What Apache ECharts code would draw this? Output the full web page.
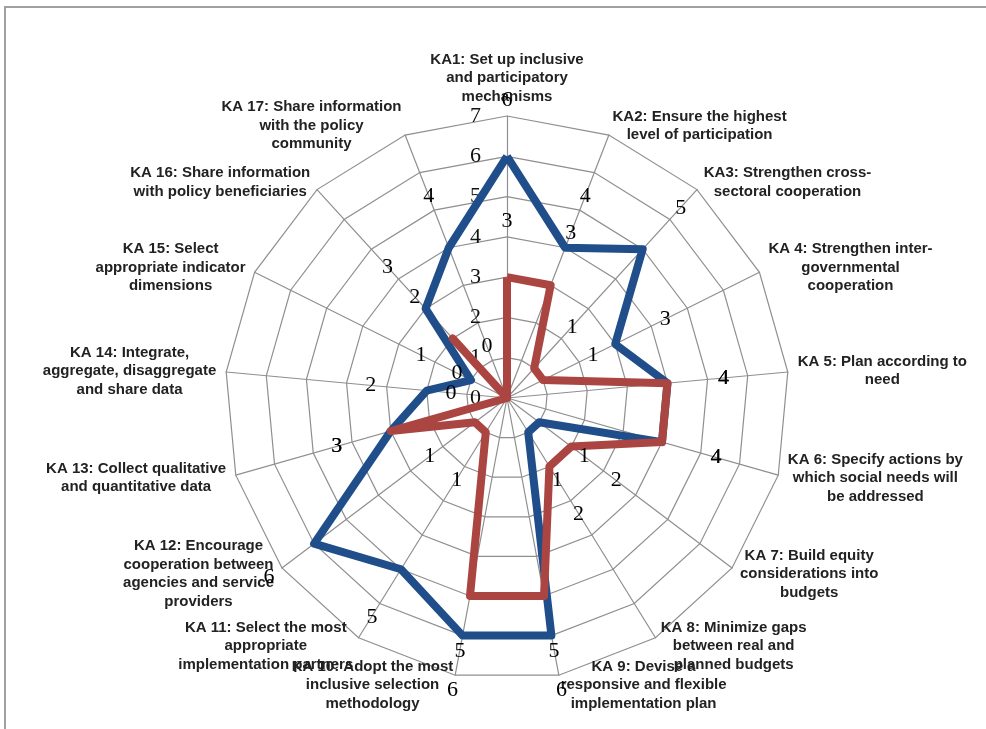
<!DOCTYPE html>
<html><head><meta charset="utf-8">
<script src="https://cdn.jsdelivr.net/npm/echarts@6/dist/echarts.min.js"></script>
<style>html,body{margin:0;padding:0;background:#fff}#c{width:986px;height:729px}</style>
</head><body><div id="c"></div>
<script>
const categories = [
  'KA1: Set up inclusive\nand participatory\nmechanisms',
  'KA2: Ensure the highest\nlevel of participation',
  'KA3: Strengthen cross-\nsectoral cooperation',
  'KA 4: Strengthen inter-\ngovernmental\ncooperation',
  'KA 5: Plan according to\nneed',
  'KA 6: Specify actions by\nwhich social needs will\nbe addressed',
  'KA 7: Build equity\nconsiderations into\nbudgets',
  'KA 8: Minimize gaps\nbetween real and\nplanned budgets',
  'KA 9: Devise a\nresponsive and flexible\nimplementation plan',
  'KA 10: Adopt the most\ninclusive selection\nmethodology',
  'KA 11: Select the most\nappropriate\nimplementation partners',
  'KA 12: Encourage\ncooperation between\nagencies and service\nproviders',
  'KA 13: Collect qualitative\nand quantitative data',
  'KA 14: Integrate,\naggregate, disaggregate\nand share data',
  'KA 15: Select\nappropriate indicator\ndimensions',
  'KA 16: Share information\nwith policy beneficiaries',
  'KA 17: Share information\nwith the policy\ncommunity'
];
const blueValues = [6, 4, 5, 3, 4, 4, 1, 1, 6, 6, 5, 6, 3, 2, 1, 3, 4];
const redValues  = [3, 3, 1, 1, 4, 4, 2, 2, 5, 5, 1, 1, 3, 0, 0, 2, 0];
const radialTicks = [0, 1, 2, 3, 4, 5, 6, 7];

const BLUE = '#1f4e8a';
const RED = '#ab4542';
const GRID = '#8f8f8f';
const CENTER = [507, 398];
const RADIUS = 282;
const LABEL_GAP = 56;
const SERIF = "'Liberation Serif', 'DejaVu Serif', serif";
const SANS = "'Liberation Sans', Arial, sans-serif";
const n = categories.length;
const tMin = radialTicks[0], tMax = radialTicks[radialTicks.length - 1];

// ECharts radar places indicators counter-clockwise; reorder so they run clockwise
const order = [0];
for (let i = n - 1; i >= 1; i--) order.push(i);

const chart = echarts.init(document.getElementById('c'), null, {renderer: 'canvas'});

function labelSeries(values) {
  return {
    type: 'scatter', coordinateSystem: 'polar', symbol: 'circle', symbolSize: 0,
    itemStyle: {color: '#000000', opacity: 1}, silent: true, z: 10,
    data: values.map((v, i) => {
      const a = i * 2 * Math.PI / n;
      return {value: [v, i], label: {offset: [Math.round(LABEL_GAP * Math.sin(a)), Math.round(-LABEL_GAP * Math.cos(a))]}};
    }),
    label: {show: true, position: [0, 0], align: 'center', verticalAlign: 'middle',
      formatter: p => String(p.value[0]), opacity: 1,
      fontFamily: SERIF, fontSize: 22, color: '#000000'}
  };
}

chart.setOption({
  backgroundColor: '#fff',
  animation: false,
  graphic: [{type: 'rect', shape: {x: 5, y: 7, width: 1100, height: 800},
    style: {fill: 'none', stroke: '#a0a0a0', lineWidth: 2}, silent: true}],
  radar: {
    center: CENTER, radius: RADIUS, startAngle: 90, shape: 'polygon', splitNumber: tMax - tMin,
    indicator: order.map(i => ({name: categories[i], min: tMin, max: tMax})),
    axisName: {
      formatter: (name) => name.split('\n').map(s => '{c|' + s + '}').join('\n'),
      rich: {c: {align: 'center', fontFamily: SANS, fontWeight: 'bold', fontSize: 15, lineHeight: 18.5, color: '#222'}}
    },
    nameGap: 10,
    axisLine: {lineStyle: {color: GRID, width: 1.2}},
    splitLine: {lineStyle: {color: GRID, width: 1.2}},
    splitArea: {show: false},
    axisTick: {show: false},
    axisLabel: {show: false}
  },
  polar: {center: CENTER, radius: RADIUS},
  angleAxis: {type: 'category', data: categories.map((_, i) => i), startAngle: 90, clockwise: true,
    boundaryGap: false, axisLine: {show: false}, axisTick: {show: false}, axisLabel: {show: false}, splitLine: {show: false}},
  radiusAxis: {type: 'value', min: tMin, max: tMax, interval: 1,
    axisLine: {show: false}, axisTick: {show: false}, splitLine: {show: false},
    axisLabel: {show: true, margin: 26, fontFamily: SERIF, fontSize: 22, color: '#111'}},
  series: [
    {type: 'radar', symbol: 'none', z: 3,
      data: [
        {name: 'Blue', value: order.map(i => blueValues[i]), lineStyle: {color: BLUE, width: 8, join: 'round'}, itemStyle: {color: BLUE}},
        {name: 'Red', value: order.map(i => redValues[i]), lineStyle: {color: RED, width: 8, join: 'round'}, itemStyle: {color: RED}}
      ]},
    labelSeries(blueValues),
    labelSeries(redValues)
  ]
});
</script></body></html>
